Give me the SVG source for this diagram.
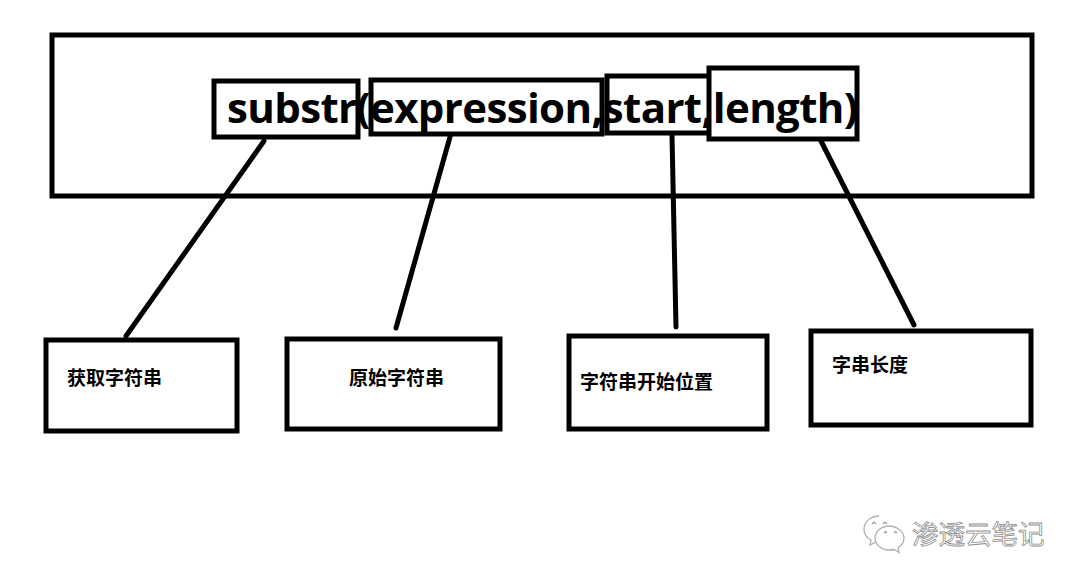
<svg xmlns="http://www.w3.org/2000/svg" width="1080" height="581" viewBox="0 0 1080 581">
<defs>
<style>
.box{fill:none;stroke:#000;stroke-width:5}
.conn{fill:none;stroke:#000;stroke-width:5;stroke-linecap:round}
.code{font-family:"Open Sans","Noto Sans","DejaVu Sans",sans-serif;font-weight:700;font-size:42px;fill:#000}
.lab{font-family:"Noto Sans CJK SC","Noto Sans",sans-serif;font-weight:700;font-size:19px;fill:#000}
.wm{font-family:"Noto Sans CJK SC","Noto Sans",sans-serif;font-weight:400;font-size:26.500px;fill:#fff;stroke:#8f8f8f;stroke-width:.8}
.bub{fill:#fff;stroke:#b0b0b0;stroke-width:1.300}
.eye{fill:none;stroke:#999;stroke-width:1.200}
</style>
</defs>
<rect width="1080" height="581" fill="#fff"/>
<g id="connectors">
<line class="conn" x1="264" y1="141" x2="126" y2="336"/>
<line class="conn" x1="450" y1="137" x2="396" y2="328"/>
<line class="conn" x1="672" y1="135" x2="676" y2="327"/>
<line class="conn" x1="821" y1="141" x2="914" y2="325"/>
</g>
<g id="outer"><rect class="box" x="52" y="35" width="980" height="161"/></g>
<text class="code" x="227" y="123" textLength="631" lengthAdjust="spacing">substr(expression,start,length)</text>
<g id="arg-substr"><rect class="box" x="214" y="81" width="144" height="56"/></g>
<g id="arg-expression"><rect class="box" x="371" y="80" width="231" height="54"/></g>
<g id="arg-start"><path class="box" d="M709 76H607V133H709"/></g>
<g id="arg-length"><rect class="box" x="709" y="68" width="148" height="71"/></g>
<g id="desc-1"><rect class="box" x="46" y="340" width="191" height="91"/><text class="lab" x="67" y="385">获取字符串</text></g>
<g id="desc-2"><rect class="box" x="287" y="339" width="213" height="90"/><text class="lab" x="349" y="385">原始字符串</text></g>
<g id="desc-3"><rect class="box" x="569" y="336" width="198" height="93"/><text class="lab" x="580" y="389">字符串开始位置</text></g>
<g id="desc-4"><rect class="box" x="811" y="331" width="220" height="94"/><text class="lab" x="832" y="372">字串长度</text></g>
<g id="watermark">
<path class="bub" d="M879 516c-8 0-15 6-15 13 0 5 3 9 7 11l-1 5 6-3c2 .5 3 .5 5 .5"/>
<path class="bub" d="M889 526c-8 0-14 6-14 12s6 12 14 12c2 0 3 0 5-.5l5 3-1-5c4-2 6-5 6-9.500 0-6-7-12-15-12z"/>
<path class="eye" d="M872 524l2-2 2 2M883 524l2-2 2 2M884 533l1.500-1.500 1.500 1.500M894 533l1.500-1.500 1.500 1.500"/>
<text class="wm" x="912" y="544">渗透云笔记</text>
</g>
</svg>
